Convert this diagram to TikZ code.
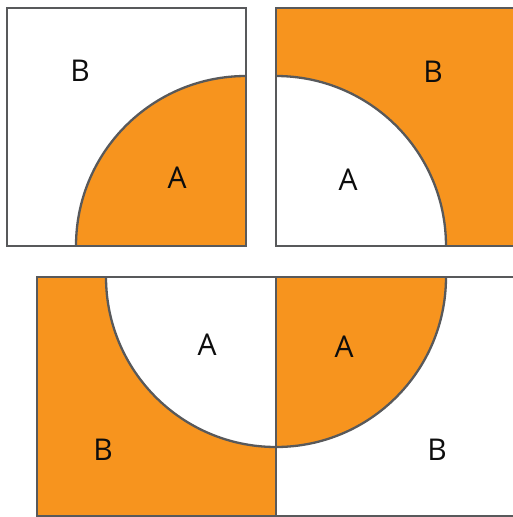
\documentclass[tikz,border=0pt]{standalone}
\usepackage{fontspec}
\setmainfont{Open Sans}
\definecolor{orng}{HTML}{F7941E}
\definecolor{edge}{HTML}{58595B}
\begin{document}
\begin{tikzpicture}[x=1pt,y=-1pt,
  outline/.style={draw=edge,line width=2.3pt,line join=miter},
  lbl/.style={text=black!95,font=\fontsize{30}{36}\selectfont,inner sep=0pt,anchor=center}]
\useasboundingbox (0,0) rectangle (513,517);
\clip (0,0) rectangle (513,517);
% top-left: white square, orange quarter disc
\fill[white] (7,8) rectangle (246,246);
\fill[orng] (246,246) -- (76,246) arc[start angle=180,end angle=270,radius=170] -- cycle;
\draw[outline] (76,246) arc[start angle=180,end angle=270,radius=170];
\draw[outline] (7,8) rectangle (246,246);
% top-right: orange square, white quarter disc
\fill[orng] (276,8) rectangle (515,246);
\fill[white] (276,246) -- (446,246) arc[start angle=0,end angle=-90,radius=170] -- cycle;
\draw[outline] (446,246) arc[start angle=0,end angle=-90,radius=170];
\draw[outline] (276,8) rectangle (515,246);
% bottom: left orange square with white quarter, right white square with orange quarter
\fill[orng] (37,277) rectangle (276,516);
\fill[white] (276,277) -- (106,277) arc[start angle=180,end angle=90,radius=170] -- cycle;
\fill[orng] (276,277) -- (276,447) arc[start angle=90,end angle=0,radius=170] -- cycle;
\draw[outline] (106,277) arc[start angle=180,end angle=0,radius=170];
\draw[outline] (37,277) rectangle (276,516);
\draw[outline] (276,277) rectangle (515,516);
% labels
\node[lbl] (tlB) at (80,71) {B};
\node[lbl] (tlA) at (177,178) {A};
\node[lbl] (trB) at (433,72) {B};
\node[lbl] (trA) at (348,180) {A};
\node[lbl] (blA) at (207,345) {A};
\node[lbl] (brA) at (344,347) {A};
\node[lbl] (blB) at (103,450) {B};
\node[lbl] (brB) at (437,450) {B};
\end{tikzpicture}
\end{document}
